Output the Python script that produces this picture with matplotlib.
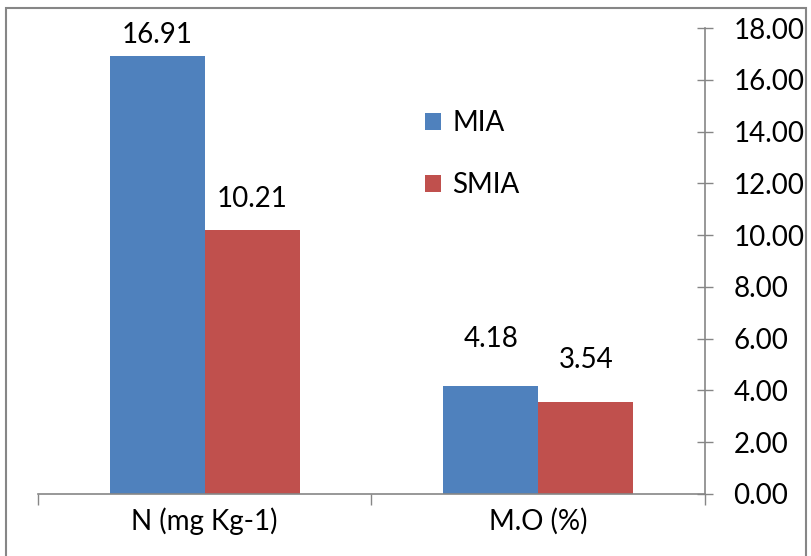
import matplotlib
matplotlib.use("Agg")
import matplotlib.pyplot as plt
import numpy as np
from matplotlib.patches import Rectangle

categories = ["N (mg Kg-1)", "M.O (%)"]
series_names = ["MIA", "SMIA"]
mia = [16.91, 4.18]
smia = [10.21, 3.54]
yticks = [0, 2, 4, 6, 8, 10, 12, 14, 16, 18]

# label offsets above bars (points), per series per category (style only)
label_offsets = {"MIA": [9.5, 28.0], "SMIA": [16.0, 24.5]}

colors = ["#4F81BD", "#C0504D"]
axis_color = "#868686"
plt.rcParams['font.family'] = ['Lato', 'DejaVu Sans']
FS = 20

fig = plt.figure(figsize=(8.11, 5.56), dpi=100)
ax = fig.add_axes([38/811, 1-494/556, (705-38)/811, (494-28)/556])

x = np.arange(len(categories))
w = 0.285
b1 = ax.bar(x - w/2, mia, w, color=colors[0], label=series_names[0])
b2 = ax.bar(x + w/2, smia, w, color=colors[1], label=series_names[1])
for name, bars in zip(series_names, (b1, b2)):
    for r, off in zip(bars, label_offsets[name]):
        ax.annotate(f"{r.get_height():.2f}", (r.get_x() + r.get_width()/2, r.get_height()),
                    xytext=(0, off), textcoords="offset points", ha="center", va="baseline",
                    fontsize=FS, color="black")

ax.set_xlim(-0.5, len(categories) - 0.5)
ax.set_ylim(0, 18)
ax.yaxis.tick_right()
ax.set_yticks(yticks)
ax.set_yticklabels([f"{v:.2f}" for v in yticks], fontsize=FS)
ax.tick_params(axis="y", direction="inout", length=11, width=1, color=axis_color, pad=15)
ax.set_xticks(np.arange(-0.5, len(categories)))
ax.set_xticks(x, minor=True)
ax.set_xticklabels([])
ax.set_xticklabels(categories, minor=True, fontsize=FS)
ax.tick_params(axis="x", which="major", direction="out", length=8, width=1, color=axis_color)
ax.tick_params(axis="x", which="minor", length=0, pad=10)
for s in ["top", "left"]:
    ax.spines[s].set_visible(False)
ax.spines["right"].set_color(axis_color)
ax.spines["bottom"].set_color(axis_color)
ax.spines["right"].set_linewidth(1.2)
ax.spines["bottom"].set_linewidth(1.2)

leg = ax.legend(loc="upper left", bbox_to_anchor=(0.543, 0.877), frameon=False,
                fontsize=FS, handlelength=0.58, handleheight=0.58, labelspacing=1.3,
                handletextpad=0.4)

fig.add_artist(Rectangle((6/811, -0.02), (806-6)/811, 1.02 - 8/556, transform=fig.transFigure,
                         fill=False, edgecolor=axis_color, linewidth=1.5, clip_on=False))

fig.savefig("out.png", dpi=100)
